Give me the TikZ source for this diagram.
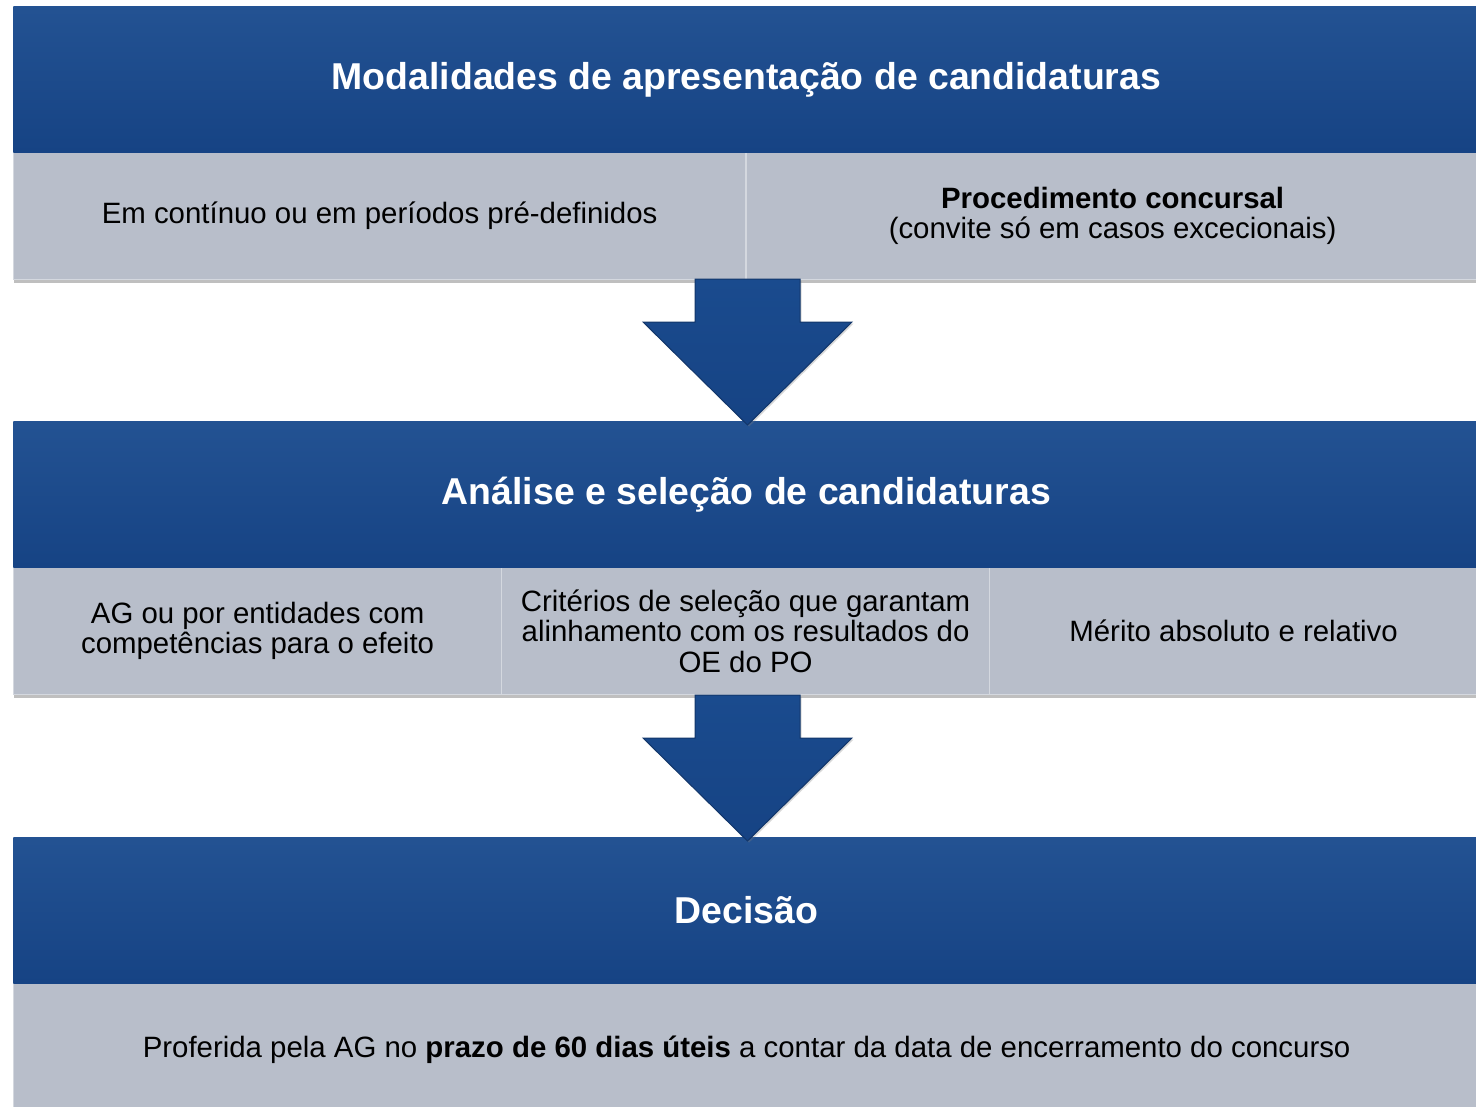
\documentclass[tikz,border=0pt]{standalone}
\usepackage{fontspec}
\setmainfont{Liberation Sans}
\usetikzlibrary{positioning,shadows}
\definecolor{hdrblue}{HTML}{1A4B8E}
\definecolor{hdrdark}{HTML}{164384}
\definecolor{cellgray}{HTML}{B8BECA}
\tikzset{
  hdr/.style={top color=hdrblue!96!white, bottom color=hdrdark, text=white, font=\fontsize{18.7}{22}\selectfont\bfseries,
    minimum width=733pt, minimum height=73pt, inner sep=0pt, anchor=north west},
  cell/.style={fill=cellgray, draw=cellgray!60!white, line width=0.6pt, font=\fontsize{14.7}{15.2}\selectfont, align=center,
    minimum height=63.5pt, inner sep=0pt, anchor=north west,
    drop shadow={shadow xshift=0pt, shadow yshift=-1.8pt, opacity=0.5}},
  blockarrow/.style={top color=hdrblue, bottom color=hdrdark, draw=hdrdark!80!black, line width=0.5pt,
    drop shadow={shadow xshift=0.8pt, shadow yshift=-0.8pt, opacity=0.3}},
}
\begin{document}
\begin{tikzpicture}[x=0.5pt, y=-0.5pt]
  \useasboundingbox[fill=white] (0, 0) rectangle (1476, 1107);
  % stage 1
  \node[cell, minimum width=366pt] (cont) at (13, 152) {Em contínuo ou em períodos pré-definidos};
  \node[cell, minimum width=366pt] (conc) at (746, 152) {\textbf{Procedimento concursal}\\(convite só em casos excecionais)};
  \node[hdr] (modal) at (13, 6) {Modalidades de apresentação de candidaturas};
  % stage 2
  \node[cell, minimum width=244pt] (ag) at (13, 567) {AG ou por entidades com\\competências para o efeito};
  \node[cell, minimum width=244pt] (crit) at (501, 567) {Critérios de seleção que garantam\\alinhamento com os resultados do\\OE do PO};
  \node[cell, minimum width=244pt] (merit) at (989, 567) {Mérito absoluto e relativo};
  \node[hdr] (anal) at (13, 421) {Análise e seleção de candidaturas};
  % stage 3
  \node[cell, minimum width=733pt, minimum height=66pt] (prof) at (13, 983) {Proferida pela AG no \textbf{prazo de 60 dias úteis} a contar da data de encerramento do concurso};
  \node[hdr] (dec) at (13, 837) {Decisão};
  % block arrows
  \foreach \y in {279, 695}
    \draw[blockarrow] (695, \y) -- (800, \y) -- (800, \y+43) -- (852, \y+43) -- (747.5, \y+146)
      -- (643, \y+43) -- (695, \y+43) -- cycle;
\end{tikzpicture}
\end{document}
